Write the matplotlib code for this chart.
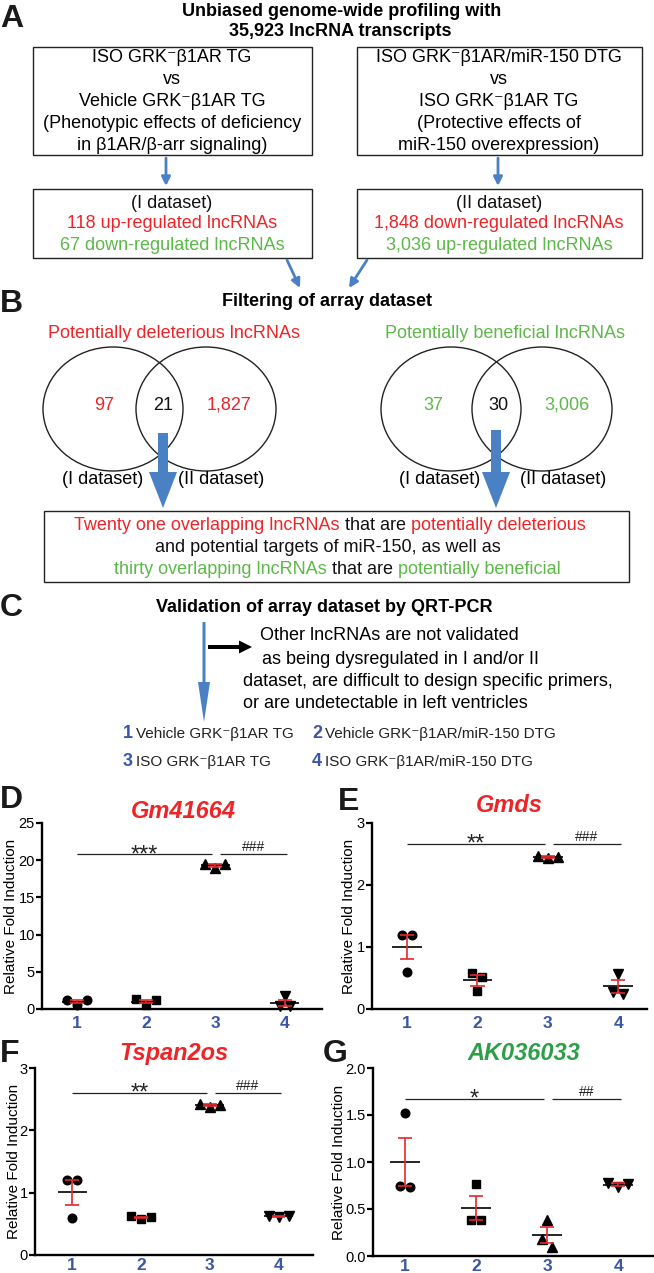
import numpy as np
import matplotlib
matplotlib.use('Agg')
import matplotlib.pyplot as plt
from matplotlib.patches import Rectangle, Ellipse, FancyArrow
from matplotlib.offsetbox import TextArea, HPacker, AnnotationBbox

plt.rcParams['font.family'] = ['Liberation Sans', 'DejaVu Sans']

# ------------------------------------------------------------------ data
header_lines = ['Unbiased genome-wide profiling with', '35,923 lncRNA transcripts']
comparison_I = ['ISO GRK\u207bβ1AR TG', 'vs', 'Vehicle GRK\u207bβ1AR TG',
                '(Phenotypic effects of deficiency', 'in β1AR/β-arr signaling)']
comparison_II = ['ISO GRK\u207bβ1AR/miR-150 DTG', 'vs', 'ISO GRK\u207bβ1AR TG',
                 '(Protective effects of', 'miR-150 overexpression)']
dataset_I = ['(I dataset)', '118 up-regulated lncRNAs', '67 down-regulated lncRNAs']
dataset_II = ['(II dataset)', '1,848 down-regulated lncRNAs', '3,036 up-regulated lncRNAs']
dataset_colors = ['black', 'red', 'green']
filter_title = 'Filtering of array dataset'
venn_titles = ['Potentially deleterious lncRNAs', 'Potentially beneficial lncRNAs']
venn_title_colors = ['red', 'green']
venn_deleterious = [97, 21, 1827]
venn_beneficial = [37, 30, 3006]
venn_set_labels = ['(I dataset)', '(II dataset)']
overlap_lines = [
    [('Twenty one overlapping lncRNAs', 'red'), ('that are', 'black'), ('potentially deleterious', 'red')],
    [('and potential targets of miR-150, as well as', 'black')],
    [('thirty overlapping lncRNAs', 'green'), ('that are', 'black'), ('potentially beneficial', 'green')],
]
validation_title = 'Validation of array dataset by QRT-PCR'
excluded_text = ['Other lncRNAs are not validated',
                 'as being dysregulated in I and/or II',
                 'dataset, are difficult to design specific primers,',
                 'or are undetectable in left ventricles']
group_ids = ['1', '2', '3', '4']
group_names = ['Vehicle GRK\u207bβ1AR TG', 'Vehicle GRK\u207bβ1AR/miR-150 DTG',
               'ISO GRK\u207bβ1AR TG', 'ISO GRK\u207bβ1AR/miR-150 DTG']

genes = ['Gm41664', 'Gmds', 'Tspan2os', 'AK036033']
gene_colors = ['red', 'red', 'red', 'darkgreen']
gm41664 = [[1.2, 1.2, 0.55], [1.3, 1.2, 0.5], [19.5, 19.5, 18.9], [1.7, 0.45, 0.35]]
gmds = [[1.2, 1.2, 0.6], [0.58, 0.52, 0.29], [2.47, 2.45, 2.43], [0.56, 0.28, 0.25]]
tspan2os = [[1.21, 1.2, 0.6], [0.62, 0.61, 0.58], [2.42, 2.41, 2.37], [0.63, 0.62, 0.61]]
ak036033 = [[1.52, 0.75, 0.73], [0.77, 0.38, 0.38], [0.38, 0.18, 0.10], [0.78, 0.77, 0.73]]
sig_labels = [('***', '###'), ('**', '###'), ('**', '###'), ('*', '##')]
sig_levels = [20.8, 2.66, 2.6, 1.67]
y_max = [25, 3, 3, 2.0]
y_step = [5, 1, 1, 0.5]
y_fmt = ['{:.0f}', '{:.0f}', '{:.0f}', '{:.1f}']

# ------------------------------------------------------------------ style
W, H = 654, 1273
COL = {'red': '#ee2427', 'green': '#5cb848', 'black': '#111111', 'darkgreen': '#2e9e48'}
ARROW_BLUE = '#4a80c4'
NUM_BLUE = '#3a56a6'
SEM_RED = '#e8262a'
FS = 13

fig = plt.figure(figsize=(W / 100, H / 100), dpi=100, facecolor='white')
ax0 = fig.add_axes([0, 0, 1, 1], zorder=0)
ax0.set_xlim(0, W)
ax0.set_ylim(H, 0)
ax0.axis('off')


def txt(x, y, s, **kw):
    kw.setdefault('ha', 'center')
    kw.setdefault('va', 'center')
    kw.setdefault('fontsize', FS)
    ax0.text(x, y, s, **kw)


def letter(x, y, s):
    ax0.text(x, y, s, fontsize=23, fontweight='bold', ha='left', va='baseline', color='#1a1a1a')


def box(x0, y0, x1, y1):
    ax0.add_patch(Rectangle((x0, y0), x1 - x0, y1 - y0, fill=False, lw=1.0, ec='#222222'))


def small_arrow(x0, y0, x1, y1, color=ARROW_BLUE):
    ax0.annotate('', xy=(x1, y1), xytext=(x0, y0),
                 arrowprops=dict(arrowstyle='-|>', color=color, lw=2.0, mutation_scale=13,
                                 shrinkA=0, shrinkB=0))


# ------------------------------------------------------------------ A
letter(0, 27, 'A')
txt(342, 11, header_lines[0], fontweight='bold')
txt(340, 32, header_lines[1], fontweight='bold')
box(33, 47, 312, 155)
box(357, 47, 642, 155)
for i, (a, b) in enumerate(zip(comparison_I, comparison_II)):
    y = 58 + i * 21.8
    txt(172, y, a)
    txt(499, y, b)
small_arrow(166, 158, 166, 186)
small_arrow(498, 158, 498, 186)
box(33, 189, 312, 258)
box(357, 189, 642, 258)
for i, (a, b) in enumerate(zip(dataset_I, dataset_II)):
    y = 203 + i * 21
    txt(172, y, a, color=COL[dataset_colors[i]])
    txt(499, y, b, color=COL[dataset_colors[i]])
small_arrow(287, 260, 300, 288)
small_arrow(367, 260, 349, 288)

# ------------------------------------------------------------------ B
letter(0, 312, 'B')
txt(327, 301, filter_title, fontweight='bold')
venn_centers = [(113, 206), (451, 542)]
venn_title_x = [174, 505]
venn_num_x = [(104, 163, 229), (433, 498, 567)]
venn_lab_x = [(103, 221), (440, 563)]
for k, vals in enumerate([venn_deleterious, venn_beneficial]):
    txt(venn_title_x[k], 333, venn_titles[k], color=COL[venn_title_colors[k]])
    for cx in venn_centers[k]:
        ax0.add_patch(Ellipse((cx, 409), 140, 124, fill=False, lw=1.0, ec='#222222'))
    for j, v in enumerate(vals):
        c = 'black' if j == 1 else venn_title_colors[k]
        txt(venn_num_x[k][j], 405, f'{v:,}', color=COL[c])
    for j, lab in enumerate(venn_set_labels):
        txt(venn_lab_x[k][j], 480, lab)
for x, y0 in [(163, 433), (496, 430)]:
    ax0.add_patch(FancyArrow(x, y0, 0, 508 - y0, width=10, head_width=28, head_length=36,
                             length_includes_head=True, color=ARROW_BLUE, lw=0))
box(44, 511, 629, 582)
for i, parts in enumerate(overlap_lines):
    children = [TextArea(s, textprops=dict(color=COL[c], fontsize=FS)) for s, c in parts]
    pack = HPacker(children=children, align='baseline', pad=0, sep=3.6)
    ab = AnnotationBbox(pack, ([330, 328, 337][i], 526 + i * 22), xycoords='data', frameon=False,
                        box_alignment=(0.5, 0.5), pad=0, annotation_clip=False)
    ax0.add_artist(ab)

# ------------------------------------------------------------------ C
letter(0, 616, 'C')
txt(324, 608, validation_title, fontweight='bold')
ax0.add_patch(FancyArrow(204, 622, 0, 100, width=3, head_width=12, head_length=40,
                         length_includes_head=True, color=ARROW_BLUE, lw=0))
ax0.add_patch(FancyArrow(208, 647, 44, 0, width=4, head_width=13, head_length=13,
                         length_includes_head=True, color='black', lw=0))
for s, x, y in zip(excluded_text, [260, 262, 243, 243], [636, 659, 681, 703]):
    txt(x, y, s, ha='left')
leg_pos = [(133, 734), (322, 734), (133, 762), (322, 762)]
for gid, name, (x, y) in zip(group_ids, group_names, leg_pos):
    txt(x, y, gid, ha='right', fontweight='bold', color=NUM_BLUE)
    txt(x + 3, y, name, ha='left', fontsize=11, color='#222222')

# ------------------------------------------------------------------ D-G
panel_letters = [('D', 0, 808), ('E', 338, 810), ('F', 0, 1062), ('G', 323, 1062)]
title_pos = [(183, 818), (509, 812), (174, 1060), (524, 1060)]
axes_px = [(42, 823, 322, 1009), (372, 823, 647, 1009), (35, 1068, 313, 1255), (373, 1068, 653, 1256)]
xlims = [(0.5, 4.54), (0.5, 4.41), (0.46, 4.5), (0.55, 4.49)]
ylabel_right = [18, 356, 21, 346]
xlab_pad = [5, 5, 2.5, 2.5]
markers = ['o', 's', '^', 'v']
msizes = [6.2, 5.6, 6.6, 6.6]
panel_data = [gm41664, gmds, tspan2os, ak036033]

for p in range(4):
    l, t, r, b = axes_px[p]
    ax = fig.add_axes([l / W, 1 - b / H, (r - l) / W, (b - t) / H], zorder=2)
    ax.set_facecolor('none')
    ax.set_xlim(*xlims[p])
    ax.set_ylim(0, y_max[p])
    ppu_y = (b - t) / y_max[p]
    ppu_x = (r - l) / (xlims[p][1] - xlims[p][0])
    step = 10.0 / ppu_x
    for gi, vals in enumerate(panel_data[p]):
        x0 = gi + 1
        order = sorted(range(len(vals)), key=lambda i: -vals[i])
        clusters = []
        for i in order:
            if clusters and abs(vals[clusters[-1][0]] - vals[i]) * ppu_y < 8:
                clusters[-1].append(i)
            else:
                clusters.append([i])
        xs = np.zeros(len(vals))
        for cl in clusters:
            offs = {1: [0], 2: [-0.5, 0.5], 3: [-1, 1, 0]}[len(cl)]
            for j, i in enumerate(cl):
                xs[i] = x0 + offs[j] * step
        ax.plot(xs, vals, ls='none', marker=markers[gi], color='black', ms=msizes[gi],
                mec='black', zorder=3, clip_on=False)
        m = np.mean(vals)
        sem = np.std(vals, ddof=1) / np.sqrt(len(vals))
        ax.hlines(m, x0 - 0.21, x0 + 0.21, color='black', lw=1.2, zorder=4)
        ax.vlines(x0, m - sem, m + sem, color=SEM_RED, lw=1.2, zorder=5)
        ax.hlines([m - sem, m + sem], x0 - 0.1, x0 + 0.1, color=SEM_RED, lw=1.2, zorder=5)
    h = sig_levels[p]
    for (xa, xb), lab in zip([(1, 2.96), (3.07, 4.04)], sig_labels[p]):
        ax.hlines(h, xa, xb, color='#222222', lw=0.9)
        if '*' in lab:
            ax.annotate(lab, ((xa + xb) / 2, h), xytext=(0, -5.0), textcoords='offset points',
                        ha='center', va='baseline', fontsize=17, color='#222222')
        else:
            ax.annotate(lab, ((xa + xb) / 2, h), xytext=(0, 2.4), textcoords='offset points',
                        ha='center', va='baseline', fontsize=10, color='#222222')
    for side in ['top', 'right']:
        ax.spines[side].set_visible(False)
    for side in ['left', 'bottom']:
        ax.spines[side].set_linewidth(1.7)
    yt = np.arange(0, y_max[p] + y_step[p] / 2, y_step[p])
    ax.set_yticks(yt)
    ax.set_yticklabels([y_fmt[p].format(v) for v in yt])
    ax.tick_params(axis='y', length=4, width=1.6, pad=1.2, labelsize=10.5)
    ax.set_xticks(range(1, 5))
    ax.set_xticklabels(group_ids, fontweight='bold', color=NUM_BLUE, fontsize=12.5)
    ax.tick_params(axis='x', length=0, pad=xlab_pad[p])
    ax.set_ylabel('Relative Fold Induction', fontsize=11)
    ax.yaxis.set_label_coords((ylabel_right[p] - l) / (r - l), 0.5)
    pl, px_, py_ = panel_letters[p]
    letter(px_, py_, pl)
    tx, ty = title_pos[p]
    ax0.text(tx, ty, genes[p], ha='center', va='baseline', fontsize=17, fontweight='bold',
             style='italic', color=COL[gene_colors[p]])

fig.savefig('out.png', dpi=100, facecolor='white')
